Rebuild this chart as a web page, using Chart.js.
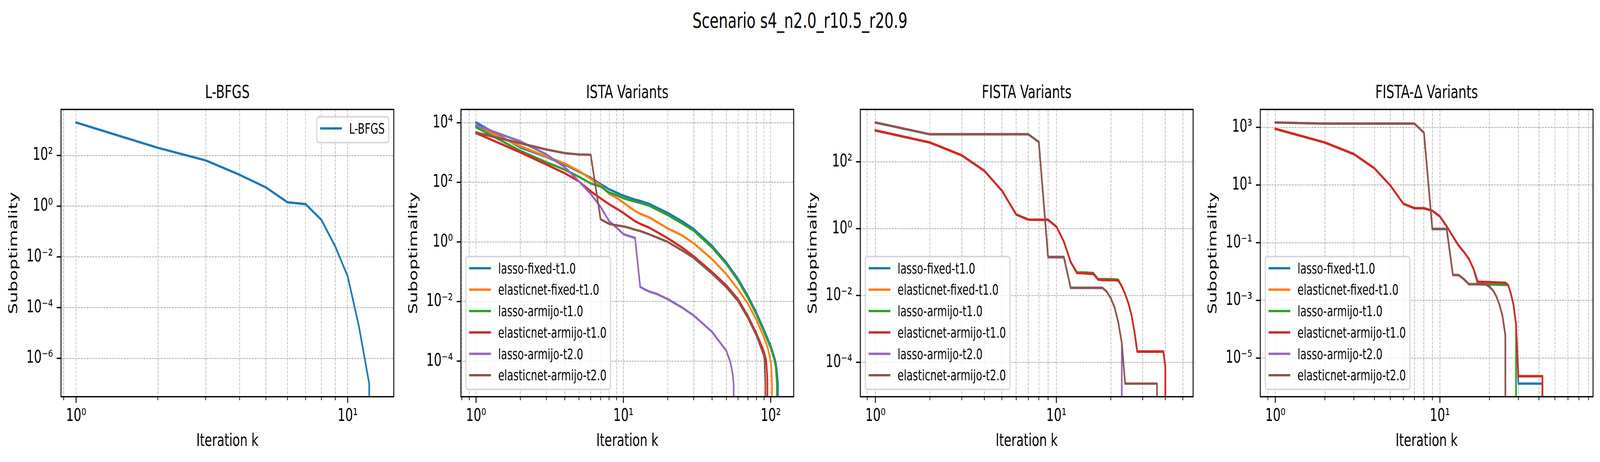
<!DOCTYPE html>
<html>
<head>
<meta charset="utf-8">
<script src="https://cdn.jsdelivr.net/npm/chart.js@4.4.1/dist/chart.umd.min.js"></script>
<style>
html, body { margin:0; padding:0; background:#ffffff; overflow:hidden; }
#wrap { position:relative; overflow:hidden; background:#ffffff; }
#fig { position:absolute; left:0; top:0; width:5957px; height:1182px; background:#ffffff; overflow:hidden; transform-origin:0 0; }
#fig canvas { position:absolute; top:0; }
#suptitle { position:absolute; left:0; top:26px; width:5957px; text-align:center; font-family:"DejaVu Sans"; font-size:54px; line-height:54px; color:#000; white-space:nowrap; }
</style>
</head>
<body>
<div id="wrap">
  <div id="fig">
    <div id="suptitle"></div>
  </div>
</div>
<script>
// ---------------- DATA ----------------
const FIG_TITLE = 'Scenario s4_n2.0_r10.5_r20.9';
const PANEL_TITLES = ['L-BFGS', 'ISTA Variants', 'FISTA Variants', 'FISTA-\u0394 Variants'];
const X_LABEL = 'Iteration k';
const Y_LABEL = 'Suboptimality';
const LBFGS_LABELS = ['L-BFGS'];
const VARIANT_LABELS = ['lasso-fixed-t1.0', 'elasticnet-fixed-t1.0', 'lasso-armijo-t1.0',
                        'elasticnet-armijo-t1.0', 'lasso-armijo-t2.0', 'elasticnet-armijo-t2.0'];
// last iteration index of each panel (x extent)
const K_MAX = [13, 113, 47, 69];
// y tick exponents (10^e) per panel
const LBFGS_Y_TICKS = [-6, -4, -2, 0, 2];
const ISTA_Y_TICKS = [-4, -2, 0, 2, 4];
const FISTA_Y_TICKS = [-4, -2, 0, 2];
const FISTAD_Y_TICKS = [-5, -3, -1, 1, 3];

// series: [iteration k, suboptimality]  (0 = reached optimum)
const lbfgs = [[1,2000],[2,201],[3,64],[4,17.3],[5,5.5],[6,1.43],[7,1.21],[8,0.29],[9,0.0257],[10,0.00171],[11,1.8e-5],[12,1.0e-7],[13,0]];

const istaLassoFixed = [[1,10200],[2,1480],[3,706],[4,398],[5,228],[6,142],[7,88],[8,58.6],[9,45],[10,35.6],[11,30.4],[12,26.3],[13,23.9],[15,18.8],[20,9.4],[25,4.96],[30,2.70],[40,0.738],[50,0.204],[60,0.0576],[70,0.0155],[80,0.0042],[90,0.00112],[100,3.2e-4],[105,1.55e-4],[108,9.5e-5],[110,5.0e-5],[112,1.8e-5],[113,0]];
const istaElasticFixed = [[1,7770],[2,1630],[3,728],[4,427],[5,240],[6,131],[7,79],[8,41],[9,30],[10,20.8],[11,14.8],[12,11],[13,8.8],[15,6.68],[20,2.84],[25,1.66],[30,0.90],[40,0.263],[50,0.082],[60,0.0256],[70,0.0085],[80,0.0024],[90,6.2e-4],[95,3.0e-4],[100,1.0e-4],[101,5.0e-5],[102,1.8e-5],[103,0]];
const istaLassoArmijo1 = [[1,7030],[2,1145],[3,472],[4,266],[5,153],[6,92],[7,72],[8,45.6],[9,37],[10,29.2],[11,25.4],[12,22.5],[13,20.4],[15,16.4],[20,8.0],[25,4.2],[30,2.39],[40,0.641],[50,0.179],[60,0.0495],[70,0.0133],[80,0.0036],[90,9.5e-4],[100,2.7e-4],[105,1.25e-4],[108,6.5e-5],[110,1.8e-5],[111,0]];
const istaElasticArmijo1 = [[1,4500],[2,1016],[3,398],[4,202],[5,107],[6,50],[7,29],[8,18.4],[9,13],[10,9.4],[11,6.7],[12,4.97],[13,4.07],[15,3.01],[20,1.33],[25,0.65],[30,0.33],[40,0.0975],[50,0.0347],[60,0.012],[70,0.0033],[80,8.5e-4],[90,2.1e-4],[93,1.1e-4],[94,6e-5],[95,1.8e-5],[96,0]];
const istaLassoArmijo2 = [[1,8170],[2,2366],[3,865],[4,325],[5,107],[6,41],[7,15],[8,4.97],[9,3.0],[10,1.83],[11,1.56],[12,1.36],[13,0.031],[14,0.0253],[15,0.0216],[17,0.0177],[20,0.012],[25,0.0063],[30,0.0034],[40,9.55e-4],[50,2.2e-4],[53,9.8e-5],[54,6.6e-5],[55,4e-5],[56,1.75e-5],[57,0]];
const istaElasticArmijo2 = [[1,4700],[2,2055],[3,1268],[4,955],[5,864],[6,840],[7,5.77],[8,4.05],[9,3.6],[10,3.33],[11,2.95],[12,2.57],[13,2.33],[15,1.79],[20,1.0],[25,0.52],[30,0.291],[40,0.0863],[50,0.0299],[60,0.0103],[70,0.0028],[80,7.2e-4],[90,1.5e-4],[91,9e-5],[92,1.8e-5],[93,0]];

const fistaLassoFixed = [[1,868],[2,378],[3,156],[4,53.8],[5,13.7],[6,2.65],[7,1.86],[8,1.85],[9,1.84],[10,1.15],[11,0.41],[12,0.10],[13,0.049],[14,0.049],[15,0.048],[16,0.047],[17,0.031],[18,0.031],[19,0.0305],[20,0.0305],[21,0.0303],[22,0.0295],[23,0.0186],[24,0.011],[25,0.0059],[26,0.00265],[27,8.4e-4],[28,2.1e-4],[39,2.1e-4],[40,7.7e-5],[41,0]];
const fistaElasticFixed = [[1,868],[2,378],[3,156],[4,53.8],[5,13.7],[6,2.65],[7,1.86],[8,1.85],[9,1.84],[10,1.15],[11,0.41],[12,0.10],[13,0.0467],[14,0.0465],[15,0.045],[16,0.044],[17,0.030],[18,0.0289],[19,0.0289],[20,0.0288],[21,0.0288],[22,0.0279],[23,0.0186],[24,0.011],[25,0.0059],[26,0.00265],[27,8.4e-4],[28,2.1e-4],[39,2.1e-4],[40,7.7e-5],[41,0]];
const fistaLassoArmijo1 = [[1,868],[2,378],[3,156],[4,53.8],[5,13.7],[6,2.65],[7,1.86],[8,1.85],[9,1.84],[10,1.15],[11,0.41],[12,0.10],[13,0.049],[14,0.049],[15,0.048],[16,0.047],[17,0.031],[18,0.031],[19,0.0305],[20,0.0305],[21,0.0303],[22,0.0295],[23,0.0186],[24,0.011],[25,0.0059],[26,0.00265],[27,8.4e-4],[28,2.1e-4],[39,2.1e-4],[40,7.7e-5],[41,0]];
const fistaElasticArmijo1 = [[1,868],[2,378],[3,156],[4,53.8],[5,13.7],[6,2.65],[7,1.86],[8,1.85],[9,1.84],[10,1.15],[11,0.41],[12,0.10],[13,0.0467],[14,0.0465],[15,0.045],[16,0.044],[17,0.030],[18,0.0289],[19,0.0289],[20,0.0288],[21,0.0288],[22,0.0279],[23,0.0186],[24,0.011],[25,0.0059],[26,0.00265],[27,8.4e-4],[28,2.1e-4],[39,2.1e-4],[40,7.7e-5],[41,0]];
const fistaLassoArmijo2 = [[1,1500],[2,665],[3,665],[4,665],[5,665],[6,665],[7,665],[8,391],[9,0.138],[10,0.138],[11,0.138],[12,0.0168],[13,0.0168],[14,0.0168],[15,0.0168],[16,0.0168],[17,0.0168],[18,0.0168],[19,0.013],[20,0.0083],[21,0.0043],[22,0.00155],[23,3.8e-4],[24,0]];
const fistaElasticArmijo2 = [[1,1500],[2,665],[3,665],[4,665],[5,665],[6,665],[7,665],[8,391],[9,0.1425],[10,0.1425],[11,0.1425],[12,0.017],[13,0.017],[14,0.017],[15,0.017],[16,0.017],[17,0.017],[18,0.017],[19,0.013],[20,0.0083],[21,0.0043],[22,0.00155],[23,3.8e-4],[24,2.3e-5],[36,2.3e-5],[37,0]];

const fdLassoFixed = [[1,884],[2,297],[3,118],[4,38],[5,9.6],[6,2.23],[7,1.57],[8,1.57],[9,1.28],[10,0.81],[11,0.372],[12,0.164],[13,0.080],[14,0.0477],[15,0.0274],[16,0.0126],[17,0.0037],[18,0.0036],[19,0.0036],[20,0.00355],[21,0.00355],[22,0.00355],[23,0.0035],[24,0.0035],[25,0.0035],[26,0.0034],[27,0.0017],[28,7.1e-4],[29,1.55e-4],[30,1.3e-6],[42,1.3e-6],[43,0]];
const fdElasticFixed = [[1,884],[2,297],[3,118],[4,38],[5,9.6],[6,2.23],[7,1.57],[8,1.57],[9,1.28],[10,0.81],[11,0.372],[12,0.164],[13,0.080],[14,0.0477],[15,0.0274],[16,0.0126],[17,0.00444],[18,0.0044],[19,0.00435],[20,0.0043],[21,0.00425],[22,0.0042],[23,0.00415],[24,0.0041],[25,0.00408],[26,0.00342],[27,0.00174],[28,7.2e-4],[29,1.58e-4],[30,2.35e-6],[42,2.35e-6],[43,0]];
const fdLassoArmijo1 = [[1,884],[2,297],[3,118],[4,38],[5,9.6],[6,2.23],[7,1.57],[8,1.57],[9,1.28],[10,0.81],[11,0.372],[12,0.164],[13,0.080],[14,0.0477],[15,0.0274],[16,0.0126],[17,0.0037],[18,0.0036],[19,0.0036],[20,0.00355],[21,0.00355],[22,0.00355],[23,0.0035],[24,0.0035],[25,0.0035],[26,0.0034],[27,0.0017],[28,7.1e-4],[29,1.55e-4],[30,0]];
const fdElasticArmijo1 = [[1,884],[2,297],[3,118],[4,38],[5,9.6],[6,2.23],[7,1.57],[8,1.57],[9,1.28],[10,0.81],[11,0.372],[12,0.164],[13,0.080],[14,0.0477],[15,0.0274],[16,0.0126],[17,0.00444],[18,0.0044],[19,0.00435],[20,0.0043],[21,0.00425],[22,0.0042],[23,0.00415],[24,0.0041],[25,0.00408],[26,0.00342],[27,0.00174],[28,7.2e-4],[29,1.58e-4],[30,2.35e-6],[42,2.35e-6],[43,0]];
const fdLassoArmijo2 = [[1,1470],[2,1350],[3,1350],[4,1350],[5,1350],[6,1350],[7,1350],[8,650],[9,0.295],[10,0.295],[11,0.295],[12,0.0075],[13,0.0075],[14,0.0054],[15,0.0036],[16,0.0036],[17,0.0036],[18,0.0036],[19,0.00355],[20,0.00299],[21,0.00225],[22,0.00141],[23,7.2e-4],[24,2.96e-4],[25,6.2e-5],[26,0]];
const fdElasticArmijo2 = [[1,1470],[2,1350],[3,1350],[4,1350],[5,1350],[6,1350],[7,1350],[8,650],[9,0.303],[10,0.303],[11,0.303],[12,0.0076],[13,0.0076],[14,0.00546],[15,0.00368],[16,0.00368],[17,0.00368],[18,0.00368],[19,0.0036],[20,0.00299],[21,0.00225],[22,0.00141],[23,7.2e-4],[24,2.96e-4],[25,6.2e-5],[26,0]];

// ---------------- STYLE / LAYOUT ----------------
const FONT = '"DejaVu Sans"';
const TAB10 = ['#1f77b4', '#ff7f0e', '#2ca02c', '#d62728', '#9467bd', '#8c564b'];
const AX_LEFT = [227, 1716, 3203, 4692];
const AX_W = 1239, AX_TOP = 280, AX_BOTTOM = 1015, FIG_W = 5957, FIG_H = 1182;
const Y_BOX = 227, RIGHT_PAD = 25;
const LINE_W = 6;

// fit the 5957x1182 design to the actual viewport (the window may be clamped)
const VIEW_W = window.innerWidth || document.documentElement.clientWidth || FIG_W;
const VIEW_H = window.innerHeight || document.documentElement.clientHeight || FIG_H;
const SX = VIEW_W / FIG_W, SY = VIEW_H / FIG_H;
const figEl = document.getElementById('fig');
const wrapEl = document.getElementById('wrap');
figEl.style.transform = 'scale(' + SX + ',' + SY + ')';
wrapEl.style.width = VIEW_W + 'px';
wrapEl.style.height = VIEW_H + 'px';
const CANVAS_DPR = Math.max(1, Math.max(SX, SY) * (window.devicePixelRatio || 1));

document.getElementById('suptitle').textContent = FIG_TITLE;

const SUP = {'-':'\u207B','0':'\u2070','1':'\u00B9','2':'\u00B2','3':'\u00B3','4':'\u2074','5':'\u2075','6':'\u2076','7':'\u2077','8':'\u2078','9':'\u2079'};
function sup(n) { return String(n).split('').map(c => SUP[c]).join(''); }
function expOf(v) { const e = Math.log10(v); const r = Math.round(e); return Math.abs(e - r) < 1e-9 ? r : null; }
function pow10Label(v) { const e = expOf(v); return e === null ? '' : '10' + sup(e); }
function logPad(lo, hi) { const a = Math.log10(lo), b = Math.log10(hi), m = 0.05 * (b - a); return [Math.pow(10, a - m), Math.pow(10, b + m)]; }
function xTickValues(min, max) {
  const out = [];
  for (let e = -2; e <= 3; e++) for (let m = 1; m <= 9; m++) {
    const v = parseFloat((m * Math.pow(10, e)).toPrecision(8));
    if (v >= min && v <= max) out.push(v);
  }
  return out;
}

const mplAxes = {
  id: 'mplAxes',
  afterDraw(chart, args, opts) {
    const ctx = chart.ctx, a = chart.chartArea;
    const xs = chart.scales.x, ys = chart.scales.y;
    ctx.save();
    ctx.strokeStyle = '#000';
    ctx.lineCap = 'butt';
    xs.ticks.forEach(t => {
      const px = xs.getPixelForValue(t.value);
      const major = expOf(t.value) !== null;
      ctx.lineWidth = major ? 3.4 : 2.6;
      ctx.beginPath(); ctx.moveTo(px, a.bottom); ctx.lineTo(px, a.bottom + (major ? 15.8 : 9)); ctx.stroke();
    });
    ys.ticks.forEach(t => {
      const py = ys.getPixelForValue(t.value);
      ctx.lineWidth = 3.4;
      ctx.beginPath(); ctx.moveTo(a.left, py); ctx.lineTo(a.left - 15.8, py); ctx.stroke();
    });
    ctx.lineWidth = 3.4;
    ctx.lineJoin = 'miter';
    ctx.strokeRect(a.left, a.top, a.right - a.left, a.bottom - a.top);

    // legend (matplotlib-like)
    const fs = 37.5;
    const pad = 0.5 * fs, bpad = 0.4 * fs, hlen = 2 * fs, htp = 0.8 * fs, lsp = 0.5 * fs, rowH = 36;
    const items = chart.data.datasets.map(d => ({ label: d.label, color: d.borderColor, width: d.borderWidth }));
    ctx.font = fs + 'px ' + FONT;
    const tw = Math.max(...items.map(i => ctx.measureText(i.label).width));
    const W = 2 * bpad + hlen + htp + tw;
    const H = 2 * bpad + items.length * rowH + (items.length - 1) * lsp;
    let x0, y0;
    if (opts.loc === 'upper right') { x0 = a.right - pad - W; y0 = a.top + pad; }
    else { x0 = a.left + pad; y0 = a.bottom - pad - H; }
    const r = 7.5;
    ctx.beginPath();
    ctx.moveTo(x0 + r, y0);
    ctx.lineTo(x0 + W - r, y0); ctx.arcTo(x0 + W, y0, x0 + W, y0 + r, r);
    ctx.lineTo(x0 + W, y0 + H - r); ctx.arcTo(x0 + W, y0 + H, x0 + W - r, y0 + H, r);
    ctx.lineTo(x0 + r, y0 + H); ctx.arcTo(x0, y0 + H, x0, y0 + H - r, r);
    ctx.lineTo(x0, y0 + r); ctx.arcTo(x0, y0, x0 + r, y0, r);
    ctx.closePath();
    ctx.fillStyle = 'rgba(255,255,255,0.8)'; ctx.fill();
    ctx.strokeStyle = 'rgba(204,204,204,0.8)'; ctx.lineWidth = 4; ctx.stroke();
    items.forEach((it, i) => {
      const rt = y0 + bpad + i * (rowH + lsp);
      const hy = rt + 14.7;
      ctx.strokeStyle = it.color; ctx.lineWidth = it.width; ctx.lineCap = 'square';
      ctx.beginPath(); ctx.moveTo(x0 + bpad, hy); ctx.lineTo(x0 + bpad + hlen, hy); ctx.stroke();
      ctx.fillStyle = '#000'; ctx.textAlign = 'left'; ctx.textBaseline = 'alphabetic';
      ctx.fillText(it.label, x0 + bpad + hlen + htp, rt + 28);
    });
    ctx.restore();
  }
};

const PANELS = [
  { title: PANEL_TITLES[0], labels: LBFGS_LABELS, series: [lbfgs], kMax: K_MAX[0], yTicks: LBFGS_Y_TICKS, loc: 'upper right' },
  { title: PANEL_TITLES[1], labels: VARIANT_LABELS, series: [istaLassoFixed, istaElasticFixed, istaLassoArmijo1, istaElasticArmijo1, istaLassoArmijo2, istaElasticArmijo2], kMax: K_MAX[1], yTicks: ISTA_Y_TICKS, loc: 'lower left' },
  { title: PANEL_TITLES[2], labels: VARIANT_LABELS, series: [fistaLassoFixed, fistaElasticFixed, fistaLassoArmijo1, fistaElasticArmijo1, fistaLassoArmijo2, fistaElasticArmijo2], kMax: K_MAX[2], yTicks: FISTA_Y_TICKS, loc: 'lower left' },
  { title: PANEL_TITLES[3], labels: VARIANT_LABELS, series: [fdLassoFixed, fdElasticFixed, fdLassoArmijo1, fdElasticArmijo1, fdLassoArmijo2, fdElasticArmijo2], kMax: K_MAX[3], yTicks: FISTAD_Y_TICKS, loc: 'lower left' }
];

Chart.defaults.font.family = FONT;

PANELS.forEach((p, pi) => {
  const cv = document.createElement('canvas');
  const cw = Y_BOX + AX_W + RIGHT_PAD;
  cv.width = cw; cv.height = FIG_H;
  cv.style.left = (AX_LEFT[pi] - Y_BOX) + 'px';
  cv.style.width = cw + 'px'; cv.style.height = FIG_H + 'px';
  figEl.appendChild(cv);

  const xr = logPad(1, p.kMax);
  let lo = Infinity, hi = -Infinity;
  p.series.forEach(s => s.forEach(([k, v]) => { if (v > 0) { lo = Math.min(lo, v); hi = Math.max(hi, v); } }));
  const yr = logPad(lo, hi);
  const n = p.series.length;

  const datasets = p.series.map((s, i) => ({
    label: p.labels[i],
    data: s.map(([k, v]) => ({ x: k, y: v > 0 ? v : Number.MIN_VALUE })),
    borderColor: TAB10[i], backgroundColor: TAB10[i],
    borderWidth: LINE_W, pointRadius: 0, pointHoverRadius: 0, tension: 0, fill: false,
    clip: 0, order: n - 1 - i, borderJoinStyle: 'round', borderCapStyle: 'square'
  }));

  const titleFs = 47, titleLH = titleFs * 1.2;
  const titleMid = 255 - 0.346 * titleFs;
  const tPadTop = titleMid - titleLH / 2;
  const tPadBottom = AX_TOP - tPadTop - titleLH;

  new Chart(cv, {
    type: 'line',
    data: { datasets },
    options: {
      responsive: false, animation: false, devicePixelRatio: CANVAS_DPR, events: [],
      layout: { padding: { top: 0, left: 0, right: RIGHT_PAD, bottom: 0 } },
      plugins: {
        legend: { display: false }, tooltip: { enabled: false },
        title: { display: true, text: p.title, fullSize: false, color: '#000',
                 font: { family: FONT, size: titleFs, weight: 'normal', lineHeight: 1.2 },
                 padding: { top: tPadTop, bottom: tPadBottom } },
        mplAxes: { loc: p.loc }
      },
      scales: {
        x: {
          type: 'logarithmic', position: 'bottom', min: xr[0], max: xr[1], bounds: 'data',
          afterBuildTicks: (s) => { s.ticks = xTickValues(xr[0], xr[1]).map(v => ({ value: v })); },
          afterFit: (s) => { s.height = FIG_H - AX_BOTTOM; },
          ticks: { autoSkip: false, maxRotation: 0, minRotation: 0, padding: 23.4, color: '#000',
                   font: { family: FONT, size: 45 }, callback: (v) => pow10Label(v) },
          grid: { display: true, drawOnChartArea: true, drawTicks: false, color: '#b0b0b0', lineWidth: 2.2 },
          border: { display: false, dash: [7.4, 3.2] },
          title: { display: true, text: X_LABEL, color: '#000', font: { family: FONT, size: 45 }, padding: { top: 0, bottom: 25.6 } }
        },
        y: {
          type: 'logarithmic', position: 'left', min: yr[0], max: yr[1], bounds: 'data',
          afterBuildTicks: (s) => { s.ticks = p.yTicks.map(e => ({ value: Math.pow(10, e) })); },
          afterFit: (s) => { s.width = Y_BOX; },
          ticks: { autoSkip: false, padding: 30, color: '#000',
                   font: { family: FONT, size: 45 }, callback: (v) => pow10Label(v) },
          grid: { display: true, drawOnChartArea: true, drawTicks: false, color: '#b0b0b0', lineWidth: 2.2 },
          border: { display: false, dash: [7.4, 3.2] },
          title: { display: true, text: Y_LABEL, color: '#000', font: { family: FONT, size: 45 }, padding: { top: 25, bottom: 0 } }
        }
      }
    },
    plugins: [mplAxes]
  });
});
</script>
</body>
</html>
